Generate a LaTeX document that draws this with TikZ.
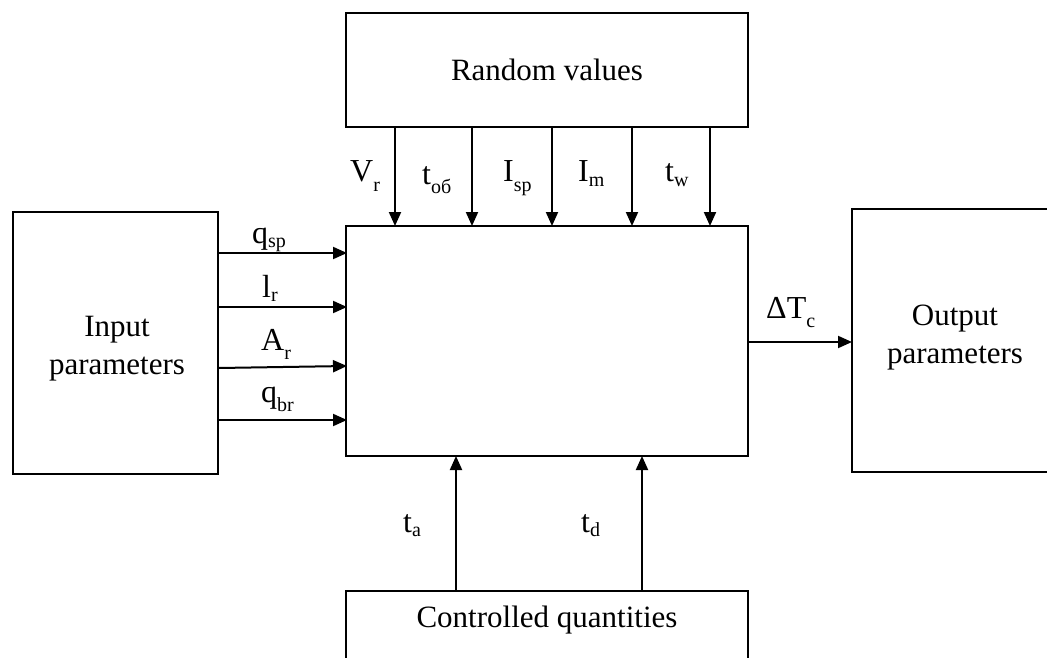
\documentclass[tikz,border=0pt]{standalone}
\usepackage{fontspec}
\setmainfont{Liberation Serif}
\usetikzlibrary{arrows.meta}
\newcommand{\sbs}[1]{\raisebox{-0.3ex}{\fontsize{20}{20}\selectfont #1}}
\newcommand{\sbl}[1]{\raisebox{-0.65ex}{\fontsize{20}{20}\selectfont #1}}
\begin{document}
\begin{tikzpicture}[x=1pt,y=-1pt,
  box/.style={draw,line width=2pt,rectangle,align=center,inner sep=0pt,
    font=\fontsize{31}{38}\selectfont},
  arr/.style={line width=2pt,-{Triangle[length=14pt,width=12pt]}},
  lab/.style={font=\fontsize{32}{34}\selectfont,inner sep=0pt,anchor=base west}]
\useasboundingbox (0,0) rectangle (1047,658);
% boxes
\node[box,minimum width=402pt,minimum height=114pt] (rv) at (547,70) {Random values};
\node[box,minimum width=402pt,minimum height=230pt] (mb) at (547,341) {};
\node[box,minimum width=205pt,minimum height=262pt] (ip) at (115.5,342.5) {};
\node[font=\fontsize{31}{38}\selectfont,align=center] (ipt) at (117,349) {Input\\parameters};
\node[box,minimum width=206pt,minimum height=263pt] (op) at (955,340.5) {};
\node[font=\fontsize{31}{38}\selectfont,align=center] (opt) at (955,338) {Output\\parameters};
\node[box,minimum width=402pt,minimum height=120pt,anchor=north] (cq) at (547,590) {};
\node[font=\fontsize{31}{36}\selectfont] (cqt) at (547,620) {Controlled quantities};
% top arrows
\coordinate (a1) at (395,127); \coordinate (b1) at (395,226);
\coordinate (a2) at (472,127); \coordinate (b2) at (472,226);
\coordinate (a3) at (552,127); \coordinate (b3) at (552,226);
\coordinate (a4) at (632,127); \coordinate (b4) at (632,226);
\coordinate (a5) at (710,127); \coordinate (b5) at (710,226);
\draw[arr] (a1) -- (b1);
\draw[arr] (a2) -- (b2);
\draw[arr] (a3) -- (b3);
\draw[arr] (a4) -- (b4);
\draw[arr] (a5) -- (b5);
\node[lab] (lv) at (350,182) {V\sbl{r}};
\node[lab] (lt) at (422,184) {t\sbl{об}};
\node[lab] (li) at (503,182) {I\sbl{sp}};
\node[lab] (lm) at (578,182) {I\sbs{m}};
\node[lab] (lw) at (665,182) {t\sbs{w}};
% left arrows
\coordinate (c1) at (219,253); \coordinate (d1) at (347,253);
\coordinate (c2) at (219,307); \coordinate (d2) at (347,307);
\coordinate (c3) at (219,368); \coordinate (d3) at (347,366);
\coordinate (c4) at (219,420); \coordinate (d4) at (347,420);
\draw[arr] (c1) -- (d1);
\draw[arr] (c2) -- (d2);
\draw[arr] (c3) -- (d3);
\draw[arr] (c4) -- (d4);
\node[lab] (lq) at (252,243) {q\sbs{sp}};
\node[lab] (ll) at (262,297) {l\sbs{r}};
\node[lab] (la) at (261,350) {A\sbl{r}};
\node[lab] (lb) at (261,402) {q\sbl{br}};
% bottom arrows
\coordinate (e1) at (456,590); \coordinate (f1) at (456,456);
\coordinate (e2) at (642,590); \coordinate (f2) at (642,456);
\draw[arr] (e1) -- (f1);
\draw[arr] (e2) -- (f2);
\node[lab] (lta) at (403,532) {t\sbs{a}};
\node[lab] (ltd) at (581,532) {t\sbs{d}};
% output arrow
\coordinate (g1) at (748,342); \coordinate (g2) at (852,342);
\draw[arr] (g1) -- (g2);
\node[lab] (ldt) at (766,318) {ΔT\sbl{c}};
\end{tikzpicture}
\end{document}
